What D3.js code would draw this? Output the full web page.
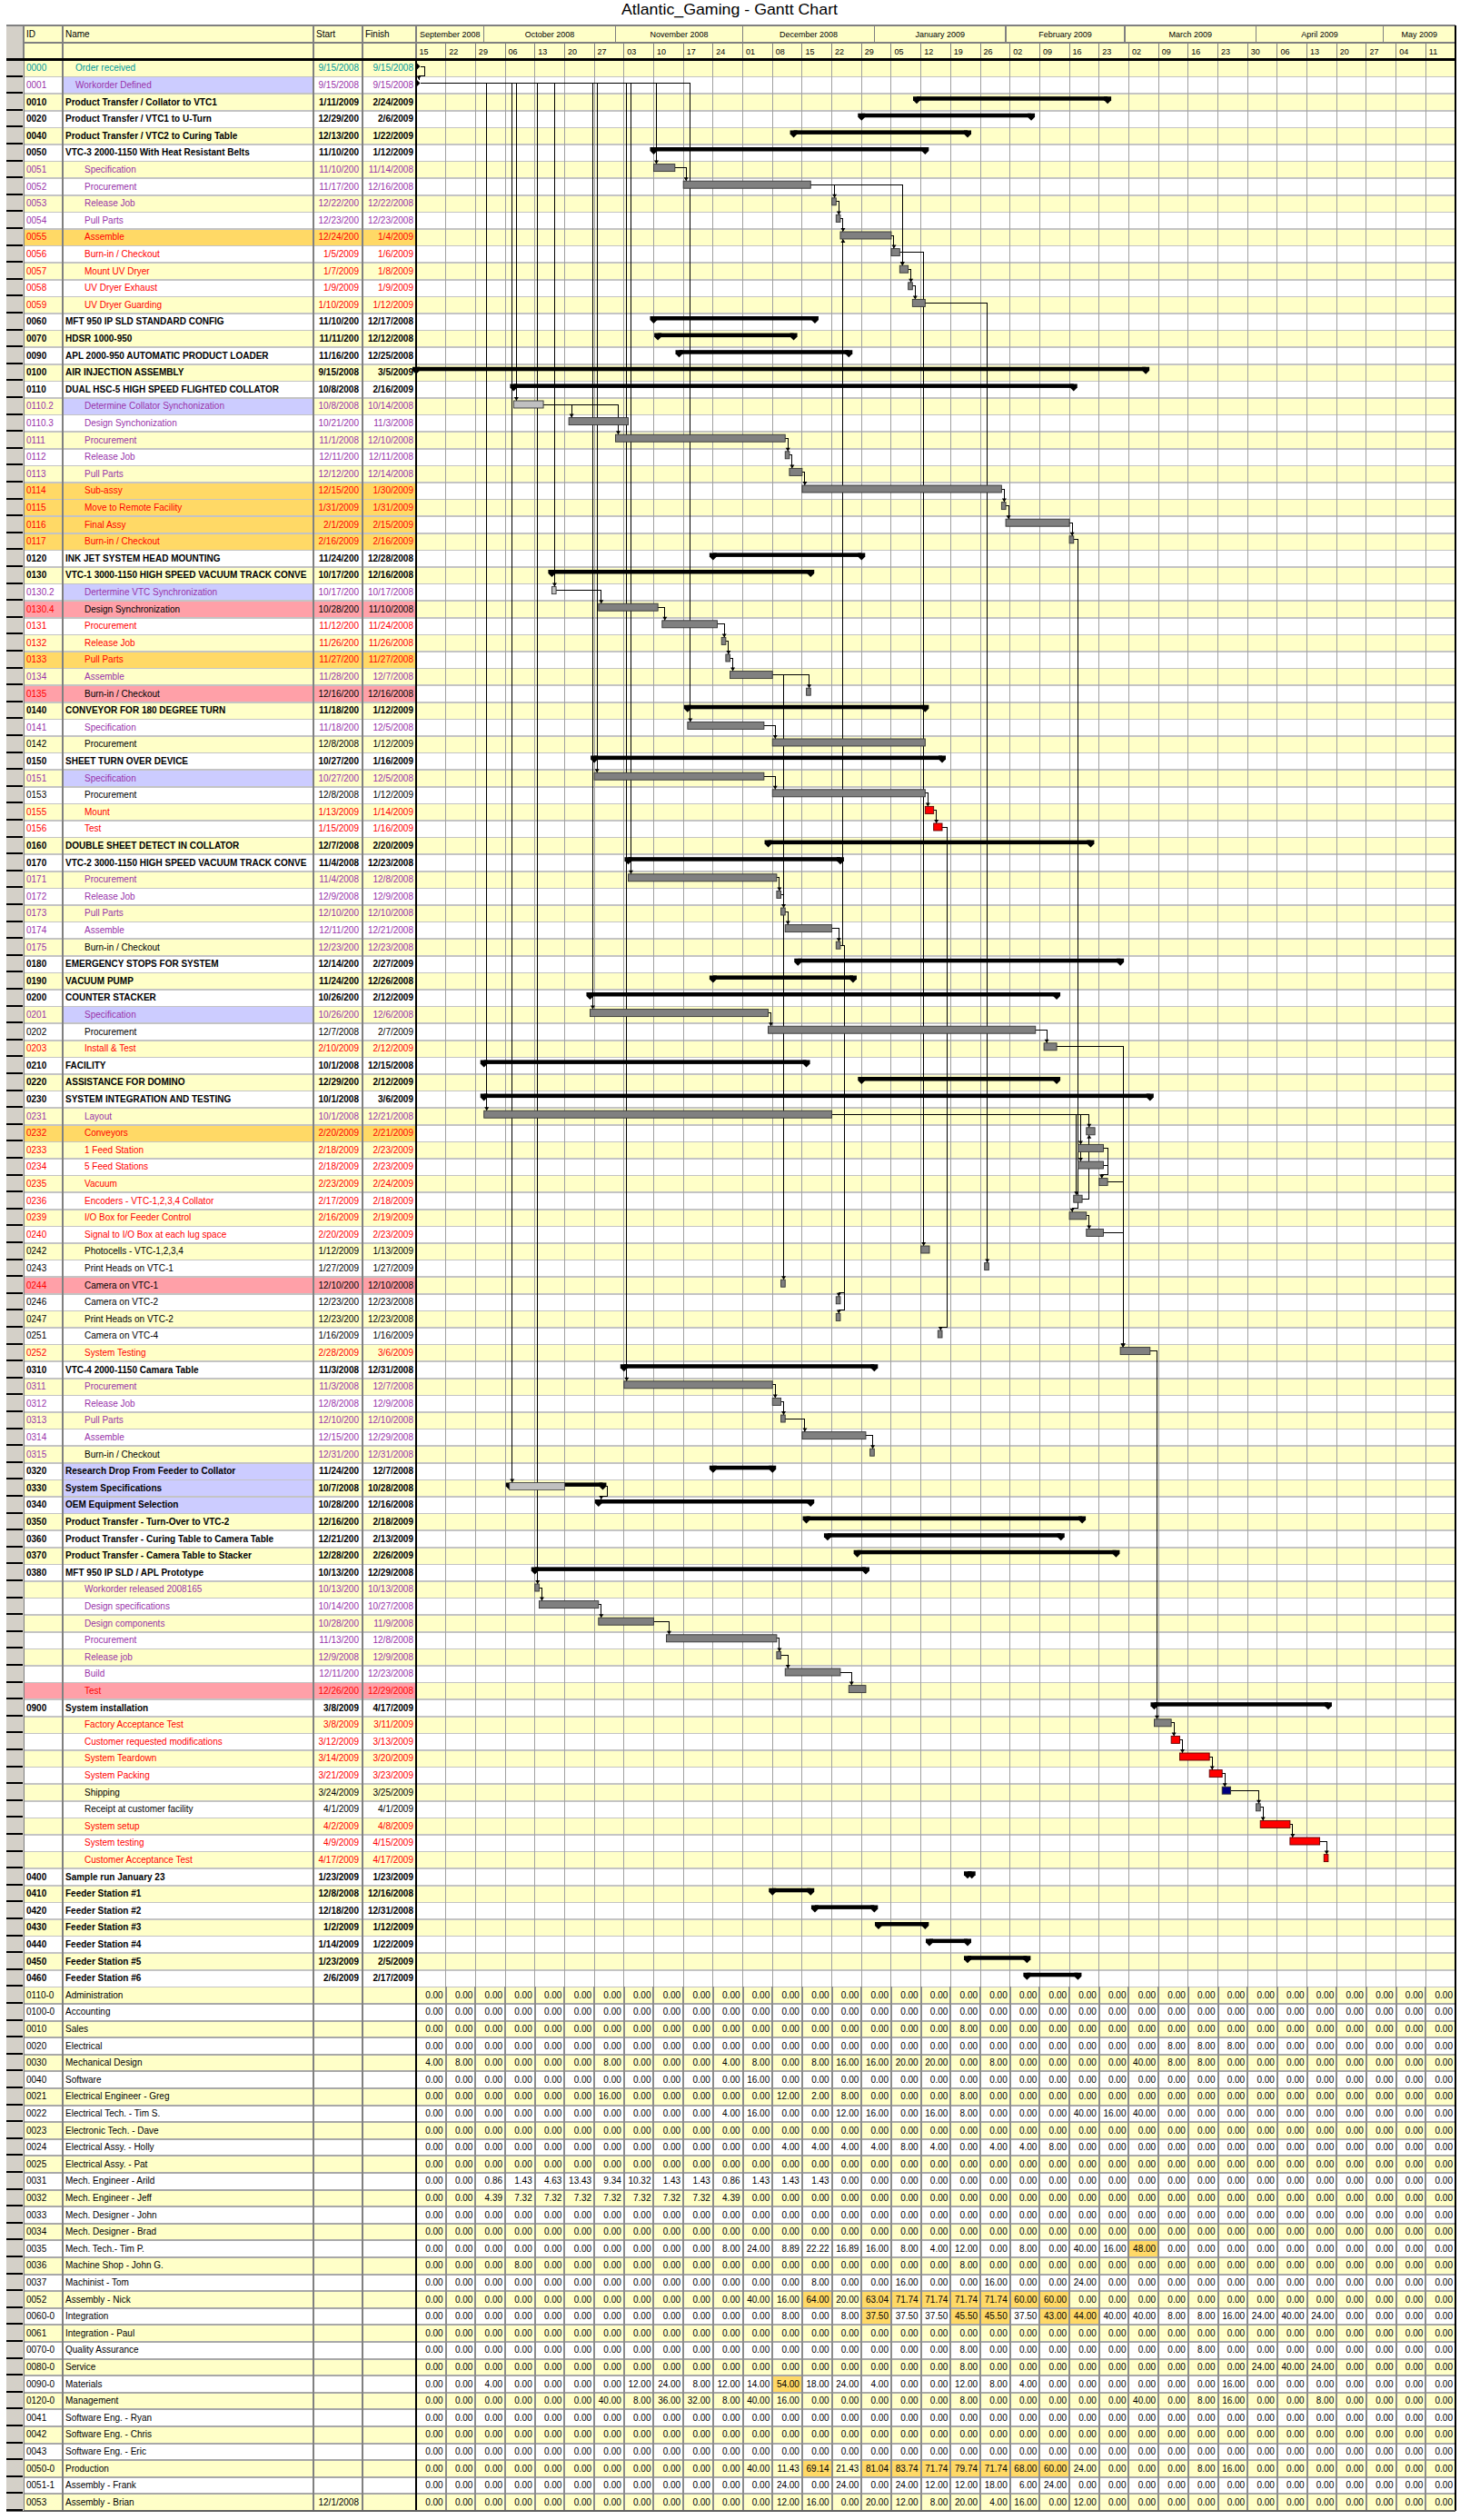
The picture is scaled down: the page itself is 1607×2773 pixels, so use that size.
<!DOCTYPE html>
<html><head><meta charset="utf-8">
<script src="https://cdnjs.cloudflare.com/ajax/libs/d3/7.8.5/d3.min.js"></script>
<style>body{margin:0;background:#fff} text{font-family:"Liberation Sans",Arial,sans-serif}</style>
</head><body><svg id="c" width="1607" height="2773"></svg>
<script>
// ---------------- DATA ----------------
const chartTitle = "Atlantic_Gaming - Gantt Chart";
const headerLabels = ["ID","Name","Start","Finish"];
const taskIds = [
"0000","0001","0010","0020","0040","0050","0051","0052","0053","0054",
"0055","0056","0057","0058","0059","0060","0070","0090","0100","0110",
"0110.2","0110.3","0111","0112","0113","0114","0115","0116","0117","0120",
"0130","0130.2","0130.4","0131","0132","0133","0134","0135","0140","0141",
"0142","0150","0151","0153","0155","0156","0160","0170","0171","0172",
"0173","0174","0175","0180","0190","0200","0201","0202","0203","0210",
"0220","0230","0231","0232","0233","0234","0235","0236","0239","0240",
"0242","0243","0244","0246","0247","0251","0252","0310","0311","0312",
"0313","0314","0315","0320","0330","0340","0350","0360","0370","0380",
"","","","","","","","0900","","",
"","","","","","","","0400","0410","0420",
"0430","0440","0450","0460"];
const taskNames = [
"Order received","Workorder Defined","Product Transfer / Collator to VTC1","Product Transfer / VTC1 to U-Turn","Product Transfer / VTC2 to Curing Table","VTC-3 2000-1150 With Heat Resistant Belts","Specification","Procurement","Release Job","Pull Parts",
"Assemble","Burn-in / Checkout","Mount UV Dryer","UV Dryer Exhaust","UV Dryer Guarding","MFT 950 IP SLD STANDARD CONFIG","HDSR 1000-950","APL 2000-950 AUTOMATIC PRODUCT LOADER","AIR INJECTION ASSEMBLY","DUAL HSC-5 HIGH SPEED FLIGHTED COLLATOR",
"Determine Collator Synchonization","Design Synchonization","Procurement","Release Job","Pull Parts","Sub-assy","Move to Remote Facility","Final Assy","Burn-in / Checkout","INK JET SYSTEM HEAD MOUNTING",
"VTC-1 3000-1150 HIGH SPEED VACUUM TRACK CONVE","Dertermine VTC Synchronization","Design Synchronization","Procurement","Release Job","Pull Parts","Assemble","Burn-in / Checkout","CONVEYOR FOR 180 DEGREE TURN","Specification",
"Procurement","SHEET TURN OVER DEVICE","Specification","Procurement","Mount","Test","DOUBLE SHEET DETECT IN COLLATOR","VTC-2 3000-1150 HIGH SPEED VACUUM TRACK CONVE","Procurement","Release Job",
"Pull Parts","Assemble","Burn-in / Checkout","EMERGENCY STOPS FOR SYSTEM","VACUUM PUMP","COUNTER STACKER","Specification","Procurement","Install & Test","FACILITY",
"ASSISTANCE FOR DOMINO","SYSTEM INTEGRATION AND TESTING","Layout","Conveyors","1 Feed Station","5 Feed Stations","Vacuum","Encoders - VTC-1,2,3,4 Collator","I/O Box for Feeder Control","Signal to I/O Box at each lug space",
"Photocells - VTC-1,2,3,4","Print Heads on VTC-1","Camera on VTC-1","Camera on VTC-2","Print Heads on VTC-2","Camera on VTC-4","System Testing","VTC-4 2000-1150 Camara Table","Procurement","Release Job",
"Pull Parts","Assemble","Burn-in / Checkout","Research Drop From Feeder to Collator","System Specifications","OEM Equipment Selection","Product Transfer - Turn-Over to VTC-2","Product Transfer - Curing Table to Camera Table","Product Transfer - Camera Table to Stacker","MFT 950 IP SLD / APL Prototype",
"Workorder released 2008165","Design specifications","Design components","Procurement","Release job","Build","Test","System installation","Factory Acceptance Test","Customer requested modifications",
"System Teardown","System Packing","Shipping","Receipt at customer facility","System setup","System testing","Customer Acceptance Test","Sample run January 23","Feeder Station #1","Feeder Station #2",
"Feeder Station #3","Feeder Station #4","Feeder Station #5","Feeder Station #6"];
const taskStarts = [
"9/15/2008","9/15/2008","1/11/2009","12/29/2008","12/13/2008","11/10/2008","11/10/2008","11/17/2008","12/22/2008","12/23/2008",
"12/24/2008","1/5/2009","1/7/2009","1/9/2009","1/10/2009","11/10/2008","11/11/2008","11/16/2008","9/15/2008","10/8/2008",
"10/8/2008","10/21/2008","11/1/2008","12/11/2008","12/12/2008","12/15/2008","1/31/2009","2/1/2009","2/16/2009","11/24/2008",
"10/17/2008","10/17/2008","10/28/2008","11/12/2008","11/26/2008","11/27/2008","11/28/2008","12/16/2008","11/18/2008","11/18/2008",
"12/8/2008","10/27/2008","10/27/2008","12/8/2008","1/13/2009","1/15/2009","12/7/2008","11/4/2008","11/4/2008","12/9/2008",
"12/10/2008","12/11/2008","12/23/2008","12/14/2008","11/24/2008","10/26/2008","10/26/2008","12/7/2008","2/10/2009","10/1/2008",
"12/29/2008","10/1/2008","10/1/2008","2/20/2009","2/18/2009","2/18/2009","2/23/2009","2/17/2009","2/16/2009","2/20/2009",
"1/12/2009","1/27/2009","12/10/2008","12/23/2008","12/23/2008","1/16/2009","2/28/2009","11/3/2008","11/3/2008","12/8/2008",
"12/10/2008","12/15/2008","12/31/2008","11/24/2008","10/7/2008","10/28/2008","12/16/2008","12/21/2008","12/28/2008","10/13/2008",
"10/13/2008","10/14/2008","10/28/2008","11/13/2008","12/9/2008","12/11/2008","12/26/2008","3/8/2009","3/8/2009","3/12/2009",
"3/14/2009","3/21/2009","3/24/2009","4/1/2009","4/2/2009","4/9/2009","4/17/2009","1/23/2009","12/8/2008","12/18/2008",
"1/2/2009","1/14/2009","1/23/2009","2/6/2009"];
const taskFinishes = [
"9/15/2008","9/15/2008","2/24/2009","2/6/2009","1/22/2009","1/12/2009","11/14/2008","12/16/2008","12/22/2008","12/23/2008",
"1/4/2009","1/6/2009","1/8/2009","1/9/2009","1/12/2009","12/17/2008","12/12/2008","12/25/2008","3/5/2009","2/16/2009",
"10/14/2008","11/3/2008","12/10/2008","12/11/2008","12/14/2008","1/30/2009","1/31/2009","2/15/2009","2/16/2009","12/28/2008",
"12/16/2008","10/17/2008","11/10/2008","11/24/2008","11/26/2008","11/27/2008","12/7/2008","12/16/2008","1/12/2009","12/5/2008",
"1/12/2009","1/16/2009","12/5/2008","1/12/2009","1/14/2009","1/16/2009","2/20/2009","12/23/2008","12/8/2008","12/9/2008",
"12/10/2008","12/21/2008","12/23/2008","2/27/2009","12/26/2008","2/12/2009","12/6/2008","2/7/2009","2/12/2009","12/15/2008",
"2/12/2009","3/6/2009","12/21/2008","2/21/2009","2/23/2009","2/23/2009","2/24/2009","2/18/2009","2/19/2009","2/23/2009",
"1/13/2009","1/27/2009","12/10/2008","12/23/2008","12/23/2008","1/16/2009","3/6/2009","12/31/2008","12/7/2008","12/9/2008",
"12/10/2008","12/29/2008","12/31/2008","12/7/2008","10/28/2008","12/16/2008","2/18/2009","2/13/2009","2/26/2009","12/29/2008",
"10/13/2008","10/27/2008","11/9/2008","12/8/2008","12/9/2008","12/23/2008","12/29/2008","4/17/2009","3/11/2009","3/13/2009",
"3/20/2009","3/23/2009","3/25/2009","4/1/2009","4/8/2009","4/15/2009","4/17/2009","1/23/2009","12/16/2008","12/31/2008",
"1/12/2009","1/22/2009","2/5/2009","2/17/2009"];
// text style codes: T teal, P purple, R red, K black, B bold black, RK red id/black text, PK purple id+dates/black name
const taskStyles = ("T P B B B B P P P P " + "R R R R R B B B B B " + "P P P P P R R R R B " +
  "B P RK R R R P RK B P " + "K B P K R R B B P P " + "P P PK B B B P K R B " +
  "B B P R R R R R R R " + "K K RK K K K R B P P " + "P P PK B B B B B B B " +
  "P P P P P P R B R R " + "R R K K R R R B B B " + "B B B B").trim().split(" ");
// cell highlight codes: O orange, K pink, L lavender (name cell only), - none
const taskFills = ("- L - - - - - - - - " + "O - - - - - - - - - " + "L - - - - O O O O - " +
  "- L K - - O - K - - " + "- - L - - - - - - - " + "- - - - - - L - - - " +
  "- - - O - - - - - - " + "- - K - - - - - - - " + "- - - L L L - - - - " +
  "- - - - - - K - - - " + "- - - - - - - - - - " + "- - - -").trim().split(" ");
// bar kinds: M milestone, S summary, G task, L light task, R red task, N navy task, X summary with progress
const taskBars = ("M M S S S S G G G G " + "G G G G G S S S S S " + "L G G G G G G G G S " +
  "S L G G G G G G S G " + "G S G G R R S S G G " + "G G G S S S G G G S " +
  "S S G G G G G G G G " + "G G G G G G G S G G " + "G G G S X S S S S S " +
  "G G G G G G G S G R " + "R R N G R R R S S S " + "S S S S").trim().split(" ");
const progressIds = ["0330"];
const progressEnds = ["10/20/2008"];
// dependency links, 1-based row numbers [predecessor, successor]
const taskLinks = [
[1,2],
[2,7],[2,21],[2,32],[2,40],[2,43],[2,49],[2,57],[2,63],[2,79],[2,85],[2,91],
[7,8],[8,9],[9,10],[10,11],[11,12],[12,13],[13,14],[14,15],[8,13],[12,71],[15,72],
[21,22],[21,23],[23,24],[24,25],[25,26],[26,27],[27,28],[28,29],[29,69],
[32,33],[33,34],[34,35],[35,36],[36,37],[37,38],[37,73],
[40,41],[43,44],[44,45],[45,46],[46,76],
[49,50],[50,51],[51,52],[52,53],[53,11],[53,74],[53,75],
[57,58],[58,59],[59,77],
[63,64],[63,65],[63,66],[63,68],[65,67],[66,67],[68,64],[69,70],[70,77],[67,77],
[79,80],[80,81],[81,82],[82,83],
[85,86],
[91,92],[92,93],[93,94],[94,95],[95,96],[96,97],
[77,99],[99,100],[100,101],[101,102],[102,103],[103,104],[104,105],[105,106],[106,107]
];
const resourceIds = ["0110-0","0100-0","0010","0020","0030","0040","0021","0022","0023","0024","0025","0031","0032","0033","0034","0035","0036","0037","0052","0060-0","0061","0070-0","0080-0","0090-0","0120-0","0041","0042","0043","0050-0","0051-1","0053"];
const resourceNames = ["Administration","Accounting","Sales","Electrical","Mechanical Design","Software","Electrical Engineer - Greg","Electrical Tech. - Tim S.","Electronic Tech. - Dave","Electrical Assy. - Holly","Electrical Assy. - Pat","Mech. Engineer - Arild","Mech. Engineer - Jeff","Mech. Designer - John","Mech. Designer - Brad","Mech. Tech.- Tim P.","Machine Shop - John G.","Machinist - Tom","Assembly - Nick","Integration","Integration - Paul","Quality Assurance","Service","Materials","Management","Software Eng. - Ryan","Software Eng. - Chris","Software Eng. - Eric","Production","Assembly - Frank","Assembly - Brian"];
const resourceStarts = ["","","","","","","","","","","","","","","","","","","","","","","","","","","","","","","12/1/2008"];
// weekly hours per resource (35 weeks starting 9/15/2008)
const resourceHours = [
[0,0,0,0,0,0,0,0,0,0, 0,0,0,0,0,0,0,0,0,0, 0,0,0,0,0,0,0,0,0,0, 0,0,0,0,0],
[0,0,0,0,0,0,0,0,0,0, 0,0,0,0,0,0,0,0,0,0, 0,0,0,0,0,0,0,0,0,0, 0,0,0,0,0],
[0,0,0,0,0,0,0,0,0,0, 0,0,0,0,0,0,0,0,8,0, 0,0,0,0,0,0,0,0,0,0, 0,0,0,0,0],
[0,0,0,0,0,0,0,0,0,0, 0,0,0,0,0,0,0,0,0,0, 0,0,0,0,0,8,8,8,0,0, 0,0,0,0,0],
[4,8,0,0,0,0,8,0,0,0, 4,8,0,8,16,16,20,20,0,8, 0,0,0,0,40,8,8,0,0,0, 0,0,0,0,0],
[0,0,0,0,0,0,0,0,0,0, 0,16,0,0,0,0,0,0,0,0, 0,0,0,0,0,0,0,0,0,0, 0,0,0,0,0],
[0,0,0,0,0,0,16,0,0,0, 0,0,12,2,8,0,0,0,8,0, 0,0,0,0,0,0,0,0,0,0, 0,0,0,0,0],
[0,0,0,0,0,0,0,0,0,0, 4,16,0,0,12,16,0,16,8,0, 0,0,40,16,40,0,0,0,0,0, 0,0,0,0,0],
[0,0,0,0,0,0,0,0,0,0, 0,0,0,0,0,0,0,0,0,0, 0,0,0,0,0,0,0,0,0,0, 0,0,0,0,0],
[0,0,0,0,0,0,0,0,0,0, 0,0,4,4,4,4,8,4,0,4, 4,8,0,0,0,0,0,0,0,0, 0,0,0,0,0],
[0,0,0,0,0,0,0,0,0,0, 0,0,0,0,0,0,0,0,0,0, 0,0,0,0,0,0,0,0,0,0, 0,0,0,0,0],
[0,0,0.86,1.43,4.63,13.43,9.34,10.32,1.43,1.43, 0.86,1.43,1.43,1.43,0,0,0,0,0,0, 0,0,0,0,0,0,0,0,0,0, 0,0,0,0,0],
[0,0,4.39,7.32,7.32,7.32,7.32,7.32,7.32,7.32, 4.39,0,0,0,0,0,0,0,0,0, 0,0,0,0,0,0,0,0,0,0, 0,0,0,0,0],
[0,0,0,0,0,0,0,0,0,0, 0,0,0,0,0,0,0,0,0,0, 0,0,0,0,0,0,0,0,0,0, 0,0,0,0,0],
[0,0,0,0,0,0,0,0,0,0, 0,0,0,0,0,0,0,0,0,0, 0,0,0,0,0,0,0,0,0,0, 0,0,0,0,0],
[0,0,0,0,0,0,0,0,0,0, 8,24,8.89,22.22,16.89,16,8,4,12,0, 8,0,40,16,48,0,0,0,0,0, 0,0,0,0,0],
[0,0,0,8,0,0,0,0,0,0, 0,0,0,0,0,0,0,0,8,0, 0,0,0,0,0,0,0,0,0,0, 0,0,0,0,0],
[0,0,0,0,0,0,0,0,0,0, 0,0,0,8,0,0,16,0,0,16, 0,0,24,0,0,0,0,0,0,0, 0,0,0,0,0],
[0,0,0,0,0,0,0,0,0,0, 0,40,16,64,20,63.04,71.74,71.74,71.74,71.74, 60,60,0,0,0,0,0,0,0,0, 0,0,0,0,0],
[0,0,0,0,0,0,0,0,0,0, 0,0,8,0,8,37.5,37.5,37.5,45.5,45.5, 37.5,43,44,40,40,8,8,16,24,40, 24,0,0,0,0],
[0,0,0,0,0,0,0,0,0,0, 0,0,0,0,0,0,0,0,0,0, 0,0,0,0,0,0,0,0,0,0, 0,0,0,0,0],
[0,0,0,0,0,0,0,0,0,0, 0,0,0,0,0,0,0,0,8,0, 0,0,0,0,0,0,8,0,0,0, 0,0,0,0,0],
[0,0,0,0,0,0,0,0,0,0, 0,0,0,0,0,0,0,0,8,0, 0,0,0,0,0,0,0,0,24,40, 24,0,0,0,0],
[0,0,4,0,0,0,0,12,24,8, 12,14,54,18,24,4,0,0,12,8, 4,0,0,0,0,0,0,16,0,0, 0,0,0,0,0],
[0,0,0,0,0,0,40,8,36,32, 8,40,16,0,0,0,0,0,8,0, 0,0,0,0,40,0,8,16,0,0, 8,0,0,0,0],
[0,0,0,0,0,0,0,0,0,0, 0,0,0,0,0,0,0,0,0,0, 0,0,0,0,0,0,0,0,0,0, 0,0,0,0,0],
[0,0,0,0,0,0,0,0,0,0, 0,0,0,0,0,0,0,0,0,0, 0,0,0,0,0,0,0,0,0,0, 0,0,0,0,0],
[0,0,0,0,0,0,0,0,0,0, 0,0,0,0,0,0,0,0,0,0, 0,0,0,0,0,0,0,0,0,0, 0,0,0,0,0],
[0,0,0,0,0,0,0,0,0,0, 0,40,11.43,69.14,21.43,81.04,83.74,71.74,79.74,71.74, 68,60,24,0,0,0,8,16,0,0, 0,0,0,0,0],
[0,0,0,0,0,0,0,0,0,0, 0,0,24,0,24,0,24,12,12,18, 6,24,0,0,0,0,0,0,0,0, 0,0,0,0,0],
[0,0,0,0,0,0,0,0,0,0, 0,0,12,16,0,20,12,8,20,4, 16,0,12,0,0,0,0,0,0,0, 0,0,0,0,0]
];
// over-allocated cells [resource index, week index]
const resourceOver = [[15,24],[18,13],[18,15],[18,16],[18,17],[18,18],[18,19],[18,20],[18,21],
  [19,15],[19,18],[19,19],[19,21],[19,22],[23,12],
  [28,13],[28,15],[28,16],[28,17],[28,18],[28,19],[28,20],[28,21]];
const timeStart = "9/15/2008", timeEnd = "5/18/2009";

// ---------------- DRAW ----------------
const pd = s => { const [m,d,yy] = s.split("/").map(Number); return new Date(Date.UTC(yy, m-1, d)); };
const svg = d3.select("#c");
const FONT = '"Liberation Sans", Arial, sans-serif';
const YEL = "#FFFFC8", ORG = "#FFD966", PINK = "#FFA0A8", LAV = "#CCCCFF", LGRAY = "#D4D0C8";
const TEAL = "#009999", PUR = "#9933AA", RED = "#FF0000", BLK = "#000000";
const HT = 28, HM = 47, ROW0 = 66, RH = 18.6;
const C = {g0: 7, id: 26, name: 69, start: 345, finish: 399, tl: 458, right: 1602};
const nTask = taskIds.length, nRes = resourceIds.length, nRows = nTask + nRes;
const y = d3.scaleBand().domain(d3.range(nRows)).range([ROW0, ROW0 + nRows * RH]);
const d0 = pd(timeStart), d1 = pd(timeEnd);
const x = d3.scaleUtc().domain([d0, d1]).range([C.tl, C.right]);
const weeks = d3.utcMonday.range(d0, d1);
const yEndTask = ROW0 + nTask * RH, yEnd = ROW0 + nRows * RH;

// title
svg.append("text").attr("x", 803).attr("y", 16).attr("text-anchor", "middle")
  .attr("font-size", 17).attr("textLength", 238).attr("lengthAdjust", "spacingAndGlyphs")
  .attr("font-family", FONT).text(chartTitle);

// row backgrounds
const gBg = svg.append("g");
d3.range(nRows).forEach(i => {
  gBg.append("rect").attr("x", C.id).attr("y", y(i)).attr("width", C.right - C.id).attr("height", RH)
    .attr("fill", i % 2 === 0 ? YEL : "#fff");
});
taskFills.forEach((f, i) => {
  if (f === "O" || f === "K") {
    gBg.append("rect").attr("x", C.id).attr("y", y(i)).attr("width", C.tl - C.id).attr("height", RH)
      .attr("fill", f === "O" ? ORG : PINK);
  } else if (f === "L") {
    gBg.append("rect").attr("x", C.name).attr("y", y(i)).attr("width", C.start - C.name).attr("height", RH).attr("fill", LAV);
  }
});
resourceOver.forEach(([r, c]) => {
  gBg.append("rect").attr("x", x(weeks[c])).attr("y", y(nTask + r))
    .attr("width", x(d3.utcDay.offset(weeks[c], 7)) - x(weeks[c])).attr("height", RH).attr("fill", ORG);
});

// grid
const gGrid = svg.append("g").attr("shape-rendering", "crispEdges");
d3.range(nRows + 1).forEach(i => {
  const yy = ROW0 + i * RH;
  gGrid.append("line").attr("x1", C.id).attr("x2", C.right).attr("y1", yy).attr("y2", yy)
    .attr("stroke", i > nTask ? "#A8A8A8" : "#C4C4C4").attr("stroke-width", i > nTask ? 2 : 1.5);
});
weeks.slice(1).forEach(w => {
  gGrid.append("line").attr("x1", x(w)).attr("x2", x(w)).attr("y1", HM).attr("y2", yEndTask)
    .attr("stroke", "#A0A0A0").attr("stroke-width", 1);
  gGrid.append("line").attr("x1", x(w)).attr("x2", x(w)).attr("y1", yEndTask).attr("y2", yEnd)
    .attr("stroke", "#8C8C8C").attr("stroke-width", 2);
});
[C.id, C.name, C.start, C.finish].forEach(cx => {
  gGrid.append("line").attr("x1", cx).attr("x2", cx).attr("y1", HT).attr("y2", yEnd)
    .attr("stroke", "#808080").attr("stroke-width", 2);
});
gGrid.append("line").attr("x1", C.tl).attr("x2", C.tl).attr("y1", HT).attr("y2", yEnd).attr("stroke", "#000").attr("stroke-width", 2);
gGrid.append("line").attr("x1", C.right).attr("x2", C.right).attr("y1", HT).attr("y2", yEnd).attr("stroke", "#000").attr("stroke-width", 1.5);
gGrid.append("line").attr("x1", C.g0).attr("x2", C.right).attr("y1", yEnd).attr("y2", yEnd).attr("stroke", "#606060").attr("stroke-width", 2);

// left gray column
const gLeft = svg.append("g").attr("shape-rendering", "crispEdges");
d3.range(nRows).forEach(i => {
  gLeft.append("rect").attr("x", C.g0).attr("y", y(i)).attr("width", C.id - C.g0).attr("height", RH).attr("fill", LGRAY);
  gLeft.append("line").attr("x1", C.g0).attr("x2", C.id - 1).attr("y1", y(i) + RH - 1).attr("y2", y(i) + RH - 1)
    .attr("stroke", "#000").attr("stroke-width", 2);
});

svg.append("clipPath").attr("id", "nameclip").append("rect")
  .attr("x", C.name + 1).attr("y", 0).attr("width", C.start - C.name - 2).attr("height", 2773);

// table text
const SC = {T: [TEAL, TEAL, TEAL, false], P: [PUR, PUR, PUR, false], R: [RED, RED, RED, false],
  K: [BLK, BLK, BLK, false], B: [BLK, BLK, BLK, true], RK: [RED, BLK, BLK, false], PK: [PUR, BLK, PUR, false]};
const gTxt = svg.append("g").attr("font-family", FONT).attr("font-size", 10);
const gNames = gTxt.append("g").attr("clip-path", "url(#nameclip)");
taskIds.forEach((id, i) => {
  const st = SC[taskStyles[i]] || SC.K;
  const by = y(i) + 12.3;
  const fw = st[3] ? "bold" : "normal";
  gTxt.append("text").attr("x", C.id + 3).attr("y", by).attr("fill", st[0]).attr("font-weight", fw).text(id);
  const nx = st[3] ? C.name + 3 : (i < 2 ? C.name + 14 : C.name + 24);
  gNames.append("text").attr("x", nx).attr("y", by).attr("fill", st[1]).attr("font-weight", fw).text(taskNames[i]);
  gTxt.append("text").attr("x", C.start + 50).attr("y", by).attr("text-anchor", "end").attr("fill", st[2])
    .attr("font-weight", fw).text(taskStarts[i].slice(0, 9));
  gTxt.append("text").attr("x", C.finish + 56).attr("y", by).attr("text-anchor", "end").attr("fill", st[2])
    .attr("font-weight", fw).text(taskFinishes[i]);
});
resourceIds.forEach((id, r) => {
  const i = nTask + r, by = y(i) + 12.3;
  gTxt.append("text").attr("x", C.id + 3).attr("y", by).text(id);
  gNames.append("text").attr("x", C.name + 3).attr("y", by).text(resourceNames[r]);
  if (resourceStarts[r]) gTxt.append("text").attr("x", C.start + 50).attr("y", by).attr("text-anchor", "end").text(resourceStarts[r]);
  resourceHours[r].forEach((v, c) => {
    gTxt.append("text").attr("x", x(d3.utcDay.offset(weeks[c], 7)) - 3).attr("y", by)
      .attr("text-anchor", "end").text(v.toFixed(2));
  });
});

// links
const gLink = svg.append("g").attr("fill", "none").attr("stroke", "#000").attr("stroke-width", 1).attr("shape-rendering", "crispEdges");
const gArrow = svg.append("g").attr("fill", "#000");
const endX = i => taskBars[i] === "M" ? x(pd(taskStarts[i])) + 4.5 : x(d3.utcDay.offset(pd(taskFinishes[i]), 1));
taskLinks.forEach(([a, b]) => {
  const pi = a - 1, si = b - 1;
  const px = endX(pi), py = y(pi) + 7;
  const sx = x(pd(taskStarts[si])) + 3;
  const down = si > pi;
  const ty = down ? y(si) + 3 : y(si) + 11;
  let p;
  if (sx >= px + 2) p = `M${px},${py}H${sx}V${ty}`;
  else {
    const my = down ? y(si) - 1 : y(si) + RH + 1;
    p = `M${px},${py}H${px + 5}V${my}H${sx}V${ty}`;
  }
  gLink.append("path").attr("d", p);
  const s = down ? -1 : 1;
  gArrow.append("path").attr("d", `M${sx - 2.5},${ty + 4 * s}L${sx + 2.5},${ty + 4 * s}L${sx},${ty}Z`);
});

// bars
const gBar = svg.append("g");
const feet = (cx, top) => `M${cx - 4},${top}L${cx + 4},${top}L${cx + 4},${top + 4}L${cx},${top + 8}L${cx - 4},${top + 4}Z`;
taskBars.forEach((k, i) => {
  const s = pd(taskStarts[i]), f = d3.utcDay.offset(pd(taskFinishes[i]), 1);
  const x0 = x(s), x1 = x(f), top = y(i) + 3;
  if (k === "M") {
    const cy = y(i) + 7;
    gBar.append("path").attr("d", `M${x0},${cy - 4.5}L${x0 + 4.5},${cy}L${x0},${cy + 4.5}L${x0 - 1},${cy}Z`).attr("fill", "#000");
  } else if (k === "S" || k === "X") {
    gBar.append("rect").attr("x", x0).attr("y", top).attr("width", x1 - x0).attr("height", 4.5).attr("fill", "#000");
    gBar.append("path").attr("d", feet(x0, top)).attr("fill", "#000");
    gBar.append("path").attr("d", feet(x1, top)).attr("fill", "#000");
    const pi = progressIds.indexOf(taskIds[i]);
    if (k === "X" && pi >= 0) {
      const xp = x(pd(progressEnds[pi]));
      gBar.append("rect").attr("x", x0).attr("y", top).attr("width", xp - x0).attr("height", 8)
        .attr("fill", "#C0C0C0").attr("stroke", "#404040").attr("stroke-width", 0.8);
    }
  } else {
    const fill = k === "L" ? "#C0C0C0" : k === "R" ? "#FF0000" : k === "N" ? "#000080" : "#808080";
    gBar.append("rect").attr("x", x0).attr("y", top).attr("width", Math.max(3, x1 - x0)).attr("height", 8)
      .attr("fill", fill).attr("stroke", k === "R" ? "#600000" : "#333").attr("stroke-width", 0.9);
  }
});

// header
const gH = svg.append("g").attr("font-family", FONT);
gH.append("rect").attr("x", C.id).attr("y", HT).attr("width", C.right - C.id).attr("height", ROW0 - HT).attr("fill", YEL);
gH.append("rect").attr("x", C.g0).attr("y", HT).attr("width", C.id - C.g0).attr("height", ROW0 - HT).attr("fill", LGRAY);
const hl = (x1, x2, y1, y2, c, w) => gH.append("line").attr("x1", x1).attr("x2", x2).attr("y1", y1).attr("y2", y2)
  .attr("stroke", c).attr("stroke-width", w).attr("shape-rendering", "crispEdges");
hl(C.g0, C.right, HT, HT, "#808080", 1.5);
hl(C.id, C.right, HM, HM, "#808080", 1.5);
[C.id, C.name, C.start, C.finish].forEach(cx => hl(cx, cx, HT, ROW0, "#808080", 2));
hl(C.tl, C.tl, HT, ROW0, "#808080", 2);
hl(C.right, C.right, HT, ROW0, "#000", 1.5);
const months = d3.utcMonth.range(d3.utcMonth.floor(d0), d1);
months.forEach(m => {
  const a = m < d0 ? d0 : m, bEnd = d3.utcMonth.offset(m, 1), b = bEnd > d1 ? d1 : bEnd;
  if (m > d0) hl(x(m), x(m), HT, HM, "#808080", 1.5);
  gH.append("text").attr("x", (x(a) + x(b)) / 2).attr("y", 41).attr("text-anchor", "middle")
    .attr("font-size", 9).text(d3.utcFormat("%B %Y")(m));
});
weeks.slice(1).forEach(w => hl(x(w), x(w), HM, ROW0, "#808080", 1));
const cols = [C.id, C.name, C.start, C.finish];
headerLabels.forEach((t, k) => gH.append("text").attr("x", cols[k] + 3).attr("y", 41).attr("font-size", 10).text(t));
const weekAxis = d3.axisTop(x).tickValues(weeks).tickFormat(d3.utcFormat("%d")).tickSize(0).tickPadding(0);
const gW = gH.append("g").attr("transform", "translate(0,60)").call(weekAxis);
gW.select(".domain").remove();
gW.selectAll("text").attr("text-anchor", "start").attr("dx", 3).attr("font-size", 9).attr("font-family", FONT).attr("fill", "#000");
hl(C.g0, C.right, ROW0 - 1, ROW0 - 1, "#000", 3);
</script></body></html>
